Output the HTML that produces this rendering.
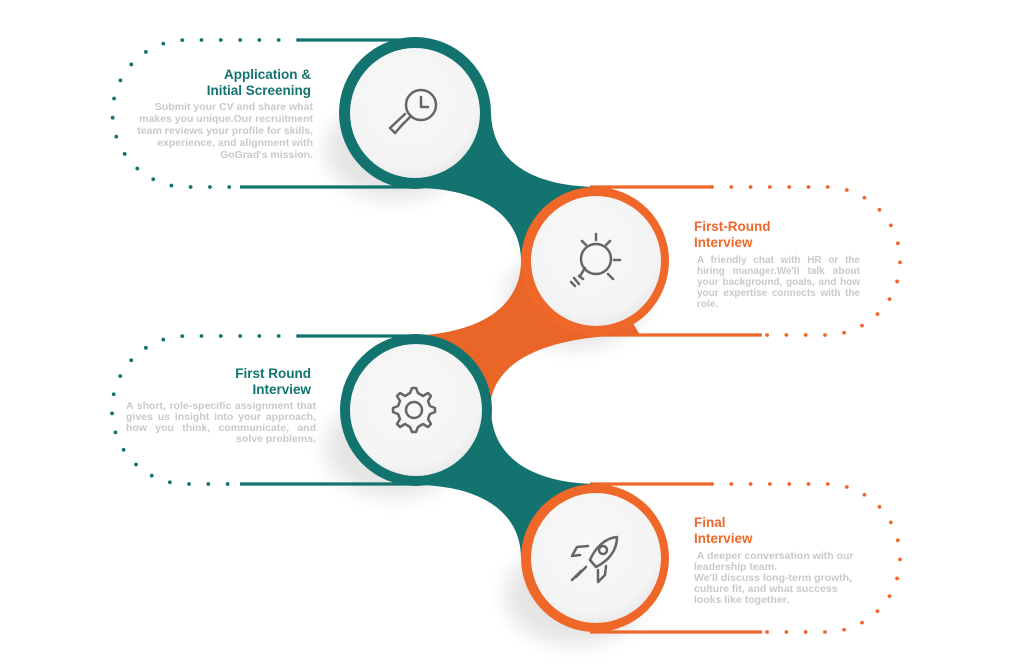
<!DOCTYPE html>
<html><head><meta charset="utf-8"><style>
html,body{margin:0;padding:0;background:#fff;}
.wrap{position:relative;width:1024px;height:669px;overflow:hidden;font-family:"Liberation Sans",Arial,sans-serif;}
svg{position:absolute;left:0;top:0;}
.t{position:absolute;font-weight:bold;font-size:13.5px;line-height:16px;}
.b{position:absolute;font-weight:bold;font-size:10.5px;line-height:11px;color:#c9c9c9;letter-spacing:0;white-space:nowrap;}
.b div{height:11px;}
.j{text-align:justify;text-align-last:justify;}
.teal{color:#12736f}.or{color:#f0672a}
</style></head><body><div class="wrap">
<svg width="1024" height="669" viewBox="0 0 1024 669">
<defs>
<radialGradient id="g" cx="0.45" cy="0.4" r="0.65"><stop offset="0" stop-color="#f8f8f8"/><stop offset="0.8" stop-color="#f4f4f4"/><stop offset="1" stop-color="#e6e6e6"/></radialGradient>
<filter id="blur" x="-50%" y="-50%" width="200%" height="200%"><feGaussianBlur stdDeviation="10"/></filter>
</defs>
<g fill="none" stroke-width="3.8" stroke-linecap="round" stroke-dasharray="0 19.3">
<path d="M298 40 H186 A73 73 0 0 0 186 187 H240" stroke="#12736f"/>
<path d="M298 336 H186 A74 74 0 0 0 186 484 H240" stroke="#12736f"/>
<path d="M712 187 H826 A74 74 0 0 1 826 335 H762" stroke="#f0672a"/>
<path d="M712 484 H826 A74 74 0 0 1 826 632 H762" stroke="#f0672a"/>
</g>
<g fill="#000" opacity="0.10" filter="url(#blur)">
<ellipse cx="395" cy="150" rx="70" ry="50"/>
<ellipse cx="575" cy="298" rx="70" ry="50"/>
<ellipse cx="395" cy="447" rx="70" ry="50"/>
<ellipse cx="575" cy="595" rx="70" ry="50"/>
</g>
<g stroke-width="3.2">
<line x1="298" y1="40" x2="420" y2="40" stroke="#12736f"/>
<line x1="240" y1="187" x2="420" y2="187" stroke="#12736f"/>
<line x1="298" y1="336" x2="420" y2="336" stroke="#12736f"/>
<line x1="240" y1="484" x2="420" y2="484" stroke="#12736f"/>
<line x1="590" y1="187" x2="712" y2="187" stroke="#f0672a"/>
<line x1="590" y1="335" x2="762" y2="335" stroke="#f0672a"/>
<line x1="590" y1="484" x2="712" y2="484" stroke="#f0672a"/>
<line x1="590" y1="632" x2="762" y2="632" stroke="#f0672a"/>
</g>
<path d="M415 113 L491 113 C492 160 530 187 600 187 L595 261 L521 261 C521 215 480 188 415 188 Z" fill="#12736f"/>
<path d="M595 261 L521 261 C521 300 490 336 400 336 L415 410 L490 410 C490 370 530 335 640 335 Z" fill="#ea6628"/>
<path d="M415 410 L491 410 C492 456 530 484 600 484 L595 558 L521 558 C521 512 480 485 415 485 Z" fill="#12736f"/>
<circle cx="415" cy="113" r="76" fill="#12736f"/>
<circle cx="595" cy="261" r="74" fill="#f0672a"/>
<circle cx="416" cy="410" r="76" fill="#12736f"/>
<circle cx="595" cy="558" r="74" fill="#f0672a"/>
<g fill="url(#g)">
<circle cx="415" cy="113" r="65"/>
<circle cx="596" cy="261" r="65"/>
<circle cx="416" cy="410" r="66"/>
<circle cx="596" cy="558" r="65"/>
</g>
<g fill="none" stroke="#666" stroke-width="2.5" stroke-linecap="round" stroke-linejoin="round">
<circle cx="421" cy="105" r="15"/>
<path d="M421 97 V107 H428"/>
<path d="M411 116 L402 125 L395 133 L390 128 L405 114"/>
<circle cx="596" cy="259" r="15"/>
<path d="M596 234 V240 M582 241 L586 245 M610 241 L606 245 M614 260 H620 M608 274 L613 279"/>
<path d="M585 268 L580 276 M574 278 L579 284 M571 282 L575 286 M579 276 L583 279"/>
<circle cx="414" cy="410" r="8"/>
<path d="M410 393 L412 388 H416 L418 393 L423 396 L428 393 L431 396 L428 401 L430 406 L435 408 V412 L430 414 L428 419 L431 424 L428 427 L423 424 L418 427 L416 432 H412 L410 427 L405 424 L400 427 L397 424 L400 419 L398 414 L393 412 V408 L398 406 L400 401 L397 396 L400 393 L405 396 Z"/>
<path d="M617 537 C605 538 595 548 590 560 L596 567 C608 561 617 551 617 537 Z"/>
<circle cx="603" cy="550" r="4"/>
<path d="M588 546 L577 547 L572 556 L580 555 M598 570 L598 582 L605 575 L606 566 M576 577 L586 567 M572 580 L581 571"/>
</g>
</svg>
<div class="t teal" style="right:713px;top:67px;text-align:right">Application &amp;<br>Initial Screening</div>
<div class="b" style="right:711px;top:101px;text-align:right;line-height:12px">
<div style="height:12px">Submit your CV and share what</div>
<div style="height:12px">makes you unique.Our recruitment</div>
<div style="height:12px">team reviews your profile for skills,</div>
<div style="height:12px">experience, and alignment with</div>
<div style="height:12px">GoGrad's mission.</div></div>
<div class="t or" style="left:694px;top:219px">First-Round<br>Interview</div>
<div class="b" style="left:697px;width:163px;top:255px;font-size:10px">
<div class="j">A friendly chat with HR or the</div>
<div class="j">hiring manager.We'll talk about</div>
<div class="j">your background, goals, and how</div>
<div class="j">your expertise connects with the</div>
<div>role.</div></div>
<div class="t teal" style="right:713px;top:366px;text-align:right">First Round<br>Interview</div>
<div class="b" style="left:126px;width:190px;top:401px">
<div class="j">A short, role-specific assignment that</div>
<div class="j">gives us insight into your approach,</div>
<div class="j">how you think, communicate, and</div>
<div style="text-align:right">solve problems.</div></div>
<div class="t or" style="left:694px;top:515px">Final<br>Interview</div>
<div class="b" style="left:694px;top:551px">
<div>&nbsp;A deeper conversation with our</div>
<div>leadership team.</div>
<div>We'll discuss long-term growth,</div>
<div>culture fit, and what success</div>
<div>looks like together.</div></div>
</div></body></html>
